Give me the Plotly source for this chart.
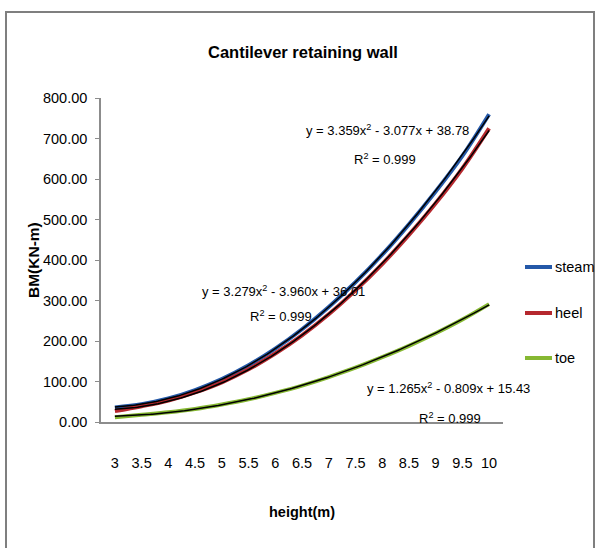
import numpy as np
import plotly.graph_objects as go

# ---- data ----
heights = [3, 3.5, 4, 4.5, 5, 5.5, 6, 6.5, 7, 7.5, 8, 8.5, 9, 9.5, 10]
tick_text = ["3", "3.5", "4", "4.5", "5", "5.5", "6", "6.5", "7", "7.5", "8", "8.5", "9", "9.5", "10"]
steam = [36, 44, 58, 79, 106, 140, 181, 229, 284, 345, 413, 488, 569, 657, 760]
heel = [27, 39, 53, 73, 98, 130, 169, 214, 266, 325, 390, 462, 540, 626, 725]
toe = [12, 18, 24, 32, 43, 56, 72, 90, 111, 134, 160, 188, 219, 253, 291]
series_names = ["steam", "heel", "toe"]
eq_texts = ["y = 3.359x<sup>2</sup> - 3.077x + 38.78",
            "y = 3.279x<sup>2</sup> - 3.960x + 36.01",
            "y = 1.265x<sup>2</sup> - 0.809x + 15.43"]
r2_text = "R<sup>2</sup> = 0.999"

colors = ["#2458A8", "#B5282E", "#86B832"]

W, H = 597, 548
L, R, T, B = 101, 503, 98, 422  # plot area in pixels

def px(x):
    return (x - L) / (R - L)

def py(y):
    return (B - y) / (B - T)

FONT = "Liberation Sans, Arial, sans-serif"

fig = go.Figure()

idx = np.arange(1, len(heights) + 1)
fine_h = np.linspace(heights[0], heights[-1], 200)
fine_i = (fine_h - heights[0]) * 2 + 1

for name, vals, col in zip(series_names, [steam, heel, toe], colors):
    fig.add_trace(go.Scatter(x=heights, y=vals, mode="lines", name=name,
                             line=dict(color=col, width=4, shape="spline"),
                             showlegend=False, hoverinfo="skip"))
for vals in [steam, heel, toe]:
    coef = np.polyfit(idx, vals, 2)
    fig.add_trace(go.Scatter(x=fine_h, y=np.polyval(coef, fine_i), mode="lines",
                             line=dict(color="black", width=1.5),
                             showlegend=False, hoverinfo="skip"))

def ann(text, x, y, size, angle=0, xanchor="center", bold=False):
    return dict(text=(f"<b>{text}</b>" if bold else text), x=px(x), y=py(y),
                xref="paper", yref="paper", showarrow=False, textangle=angle,
                xanchor=xanchor, yanchor="middle",
                font=dict(family=FONT, size=size, color="black"))

annotations = [
    ann("Cantilever retaining wall", 303, 52, 16.5, bold=True),
    ann("height(m)", 302, 512, 14.5, bold=True),
    ann("BM(KN-m)", 33, 260, 15.5, angle=-90, bold=True),
]
eq_pos = [((387, 130), (385, 159)), ((283, 291), (281, 316)), ((448, 388), (450, 418))]
for t, ((ex, ey), (rx, ry)) in zip(eq_texts, eq_pos):
    annotations.append(ann(t, ex, ey, 13))
    annotations.append(ann(r2_text, rx, ry, 13))

# manual legend
shapes = []
leg_y = [267, 313, 358]
for name, col, ly in zip(series_names, colors, leg_y):
    shapes.append(dict(type="line", xref="paper", yref="paper",
                       x0=px(525), x1=px(552), y0=py(ly), y1=py(ly),
                       line=dict(color=col, width=4)))
    annotations.append(ann(name, 553, ly, 14.5, xanchor="left"))

# outer chart border
shapes.append(dict(type="rect", xref="paper", yref="paper",
                   x0=px(6), x1=px(594), y0=py(12), y1=py(556),
                   line=dict(color="#7f7f7f", width=2), fillcolor="rgba(0,0,0,0)"))

fig.update_layout(
    width=W, height=H,
    margin=dict(l=L, r=W - R, t=T, b=H - B),
    paper_bgcolor="white", plot_bgcolor="white",
    showlegend=False,
    annotations=annotations, shapes=shapes,
    xaxis=dict(range=[2.74, 10.26], tickvals=heights, ticktext=tick_text,
               showgrid=False, zeroline=False, showline=True, linecolor="#8c8c8c",
               linewidth=1.5, ticks="", ticklabelstandoff=27,
               tickfont=dict(family=FONT, size=14.5, color="black")),
    yaxis=dict(range=[0, 800], dtick=100, tickformat=".2f",
               showgrid=False, zeroline=False, showline=True, linecolor="#8c8c8c",
               linewidth=1.5, ticks="outside", ticklen=4, tickcolor="#8c8c8c",
               ticklabelstandoff=5,
               tickfont=dict(family=FONT, size=14.5, color="black")),
)

fig.write_html("out.html", config={"displayModeBar": False},
               post_script="document.body.style.margin='0';")
